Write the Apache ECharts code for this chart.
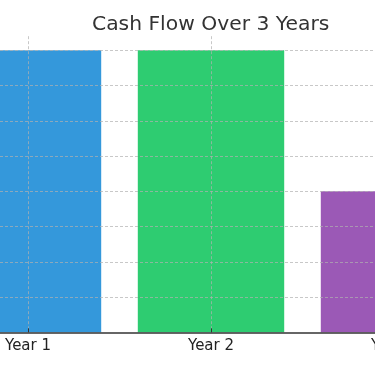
<!DOCTYPE html>
<html><head><meta charset="utf-8">
<script src="https://cdn.jsdelivr.net/npm/echarts@6/dist/echarts.min.js"></script>
<style>html,body{margin:0;padding:0;background:#fff}#c{width:375px;height:366px}</style>
</head><body><div id="c"></div>
<script>
const categories = ['Year 1', 'Year 2', 'Year 3'];
const cashFlow = [8, 8, 4];
const barColors = ['#3498db', '#2ecc71', '#9b59b6'];
const titleText = 'Cash Flow Over 3 Years';

const positions = categories.map((c, i) => i);
const chart = echarts.init(document.getElementById('c'), null, {renderer: 'canvas'});
const gridColor = 'rgba(176,176,176,0.7)';
const unit = 183;
const labelFont = {fontFamily: 'DejaVu Sans', fontSize: 15, color: '#222'};
chart.setOption({
  animation: false,
  title: {text: titleText, left: 87, top: 10,
    textStyle: {fontFamily: 'DejaVu Sans', fontSize: 20.3, fontWeight: 'normal', color: '#333'}},
  grid: {left: 0, right: 0, top: 36.2, bottom: 33.7, containLabel: false},
  xAxis: {type: 'value', min: -28 / unit, max: 347 / unit, z: 5,
    axisLine: {onZero: false, lineStyle: {color: '#333', width: 1.5}},
    axisTick: {show: true, customValues: positions, inside: true, length: 4, lineStyle: {color: '#333', width: 1}},
    axisLabel: Object.assign({customValues: positions, formatter: v => categories[Math.round(v)] || '', margin: 6}, labelFont),
    splitLine: {show: true, lineStyle: {type: [3, 2], color: gridColor, width: 1}}
  },
  yAxis: {type: 'value', min: 0, max: 8.4, interval: 1, z: 5,
    axisLine: {show: false}, axisTick: {show: false}, axisLabel: {show: false},
    splitLine: {show: true, showMaxLine: false, showMinLine: false, lineStyle: {type: [3, 2], color: gridColor, width: 1}}
  },
  series: [{type: 'bar', barWidth: 0.8 * unit, z: 2,
    data: cashFlow.map((v, i) => ({value: [positions[i], v], itemStyle: {color: barColors[i]}}))}]
});
// labels for categories lying beyond the visible axis extent (cut off by the canvas edge)
const extra = [];
positions.forEach((p, i) => {
  const px = chart.convertToPixel({gridIndex: 0}, [p, 0]);
  if (px[0] > 375) {
    extra.push({type: 'text', x: px[0], y: px[1] + 6,
      style: {text: categories[i], align: 'center', verticalAlign: 'top',
        font: '15px "DejaVu Sans"', fill: '#222'}});
  }
});
if (extra.length) chart.setOption({graphic: extra});
</script></body></html>
